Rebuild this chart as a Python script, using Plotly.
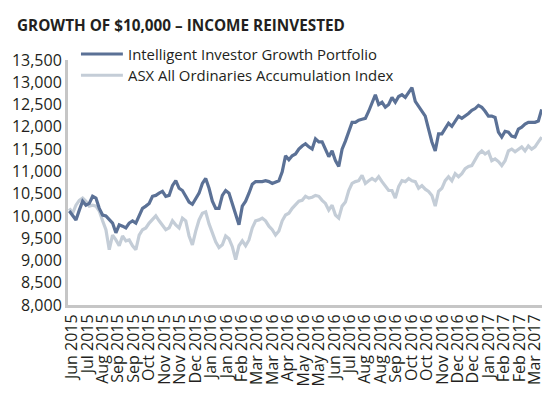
import numpy as np
import plotly.graph_objects as go

title_text = "GROWTH OF $10,000 – INCOME REINVESTED"
series_names = ["Intelligent Investor Growth Portfolio", "ASX All Ordinaries Accumulation Index"]

tick_labels = ["Jun 2015", "Jul 2015", "Aug 2015", "Sep 2015", "Sep 2015", "Oct 2015", "Nov 2015",
               "Nov 2015", "Dec 2015", "Jan 2016", "Jan 2016", "Feb 2016", "Mar 2016", "Mar 2016",
               "Apr 2016", "May 2016", "May 2016", "Jun 2016", "Jul 2016", "Aug 2016", "Aug 2016",
               "Sep 2016", "Oct 2016", "Oct 2016", "Nov 2016", "Dec 2016", "Dec 2016", "Jan 2017",
               "Feb 2017", "Feb 2017", "Mar 2017"]

growth_portfolio = [
    10110, 10000, 9910, 10130, 10330, 10240, 10280, 10440, 10400, 10170,
    10020, 10000, 9910, 9840, 9620, 9800, 9770, 9730, 9840, 9890,
    9840, 10020, 10170, 10220, 10280, 10440, 10460, 10510, 10550, 10440,
    10460, 10680, 10790, 10620, 10570, 10440, 10310, 10260, 10400, 10510,
    10730, 10840, 10620, 10330, 10170, 10170, 10460, 10570, 10510, 10280,
    10060, 9800, 10220, 10330, 10510, 10710, 10770, 10770, 10770, 10790,
    10770, 10730, 10770, 10790, 10990, 11350, 11260, 11350, 11390, 11500,
    11570, 11620, 11550, 11500, 11730, 11660, 11660, 11500, 11330, 11460,
    11240, 11110, 11500, 11680, 11900, 12100, 12100, 12150, 12170, 12190,
    12350, 12520, 12720, 12500, 12550, 12440, 12500, 12660, 12550, 12680,
    12720, 12660, 12770, 12880, 12570, 12460, 12330, 12240, 11950, 11660,
    11460, 11840, 11840, 11950, 12080, 12010, 12130, 12240, 12190, 12240,
    12300, 12370, 12410, 12480, 12440, 12350, 12240, 12240, 12210, 11880,
    11770, 11900, 11880, 11790, 11770, 11950, 11990, 12060, 12100, 12100,
    12100, 12130, 12390,
]

asx_index = [
    10170, 10060, 10240, 10350, 10400, 10330, 10220, 10240, 10220, 10110,
    9890, 9690, 9240, 9570, 9460, 9330, 9550, 9440, 9460, 9330,
    9240, 9570, 9690, 9730, 9840, 9910, 10000, 9890, 9800, 9690,
    9730, 9890, 9800, 9730, 9950, 9890, 9550, 9350, 9660, 9910,
    10060, 10090, 9820, 9600, 9420, 9290, 9350, 9550, 9490, 9310,
    9020, 9330, 9440, 9330, 9460, 9730, 9890, 9910, 9950, 9890,
    9770, 9690, 9570, 9660, 9890, 10020, 10060, 10170, 10240, 10330,
    10350, 10440, 10400, 10420, 10460, 10440, 10350, 10280, 10130, 10240,
    10020, 9950, 10220, 10310, 10570, 10730, 10770, 10790, 10910, 10730,
    10790, 10840, 10790, 10880, 10770, 10680, 10570, 10570, 10400, 10660,
    10790, 10770, 10840, 10790, 10770, 10620, 10680, 10600, 10550, 10460,
    10220, 10550, 10620, 10790, 10880, 10790, 10950, 10880, 10950, 11060,
    11110, 11130, 11280, 11390, 11460, 11390, 11440, 11240, 11280, 11220,
    11130, 11240, 11460, 11500, 11440, 11500, 11550, 11460, 11570, 11500,
    11550, 11660, 11770,
]

y_ticks = list(range(8000, 13501, 500))

dark = "#5b7196"
light = "#c4cdd7"
axis_col = "#c6c6c6"
text_col = "#231f20"
font_fam = "Open Sans"

n = len(growth_portfolio)
x_idx = list(range(n))

fig = go.Figure()
fig.add_trace(go.Scatter(x=x_idx, y=asx_index, mode="lines", name=series_names[1],
                         line=dict(color=light, width=3.2), showlegend=False))
fig.add_trace(go.Scatter(x=x_idx, y=growth_portfolio, mode="lines", name=series_names[0],
                         line=dict(color=dark, width=3.2), showlegend=False))

L, R, T, B = 67, 18, 60, 90
W, H = 560, 398
pw = W - L - R

tick_pos = list(np.linspace(0.8, n - 3.0, len(tick_labels)))

fig.update_layout(
    width=W, height=H,
    margin=dict(l=L, r=R, t=T, b=B, pad=0),
    paper_bgcolor="white", plot_bgcolor="white",
    font=dict(family=font_fam, size=15, color=text_col),
    xaxis=dict(range=[-0.4, n - 0.9], tickvals=tick_pos, ticktext=tick_labels,
               tickangle=-90, showgrid=False, zeroline=False, showline=True,
               linecolor=axis_col, linewidth=3, ticks="",
               tickfont=dict(size=16, color=text_col, family=font_fam)),
    yaxis=dict(range=[8000, 13500], tickvals=y_ticks, tickformat=",d",
               showgrid=False, zeroline=False, showline=True,
               linecolor=axis_col, linewidth=3, ticks="",
               tickfont=dict(size=16, color=text_col, family=font_fam)),
)

def px_x(px):
    return (px - L) / pw

def px_y(py):
    return 1 - (py - T) / (H - T - B)

# title
fig.add_annotation(text="<b>" + title_text + "</b>", xref="paper", yref="paper",
                   x=px_x(14), y=px_y(12), xanchor="left", yanchor="top", showarrow=False,
                   font=dict(size=15.3, color=text_col, family=font_fam))

# manual legend
for i, (name, col) in enumerate(zip(series_names, [dark, light])):
    yc = 54 + i * 21.5
    fig.add_shape(type="line", xref="paper", yref="paper",
                  x0=px_x(80), x1=px_x(122), y0=px_y(yc), y1=px_y(yc),
                  line=dict(color=col, width=3))
    fig.add_annotation(text=name, xref="paper", yref="paper", x=px_x(125), y=px_y(yc),
                       xanchor="left", yanchor="middle", showarrow=False,
                       font=dict(size=14.9, color=text_col, family=font_fam))

fig.write_html("out.html", config={"displayModeBar": False},
               post_script="document.body.style.margin='0px';")
